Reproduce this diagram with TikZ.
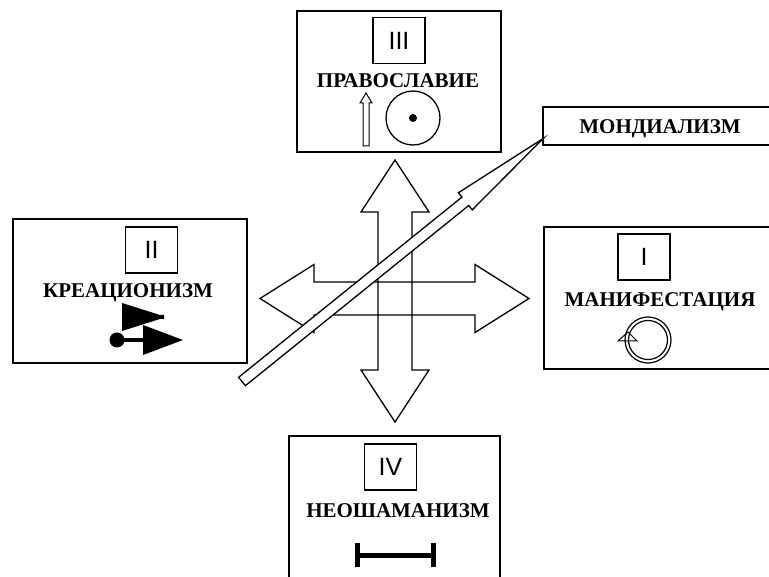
\documentclass[tikz,border=0pt]{standalone}
\usepackage{fontspec}
\setmainfont{Liberation Serif}
\newfontfamily\arialf{Liberation Sans}
\begin{document}
\begin{tikzpicture}[x=1pt,y=-1pt,
  bigbox/.style={draw, line width=1.6pt, inner sep=0pt},
  smallbox/.style={draw, line width=1.2pt, inner sep=0pt, minimum width=52pt, minimum height=46pt, font=\arialf\fontsize{25}{25}\selectfont},
  rlabel/.style={font=\bfseries\fontsize{21}{22}\selectfont, anchor=base, inner sep=0pt},
  outline/.style={draw, line width=1.3pt, line join=miter},
]
\useasboundingbox (0,0) rectangle (769,577);
\clip (0,0) rectangle (769,577);

% big boxes
\node[bigbox, minimum width=204pt, minimum height=141pt] (b3) at (399,81.5) {};
\node[bigbox, minimum width=234pt, minimum height=144pt] (b2) at (130,291) {};
\node[bigbox, minimum width=256pt, minimum height=142pt] (b1) at (672,298) {};
\node[bigbox, minimum width=257pt, minimum height=38pt] (bm) at (671.5,126) {};
\node[bigbox, minimum width=211pt, minimum height=184pt] (b4) at (394.5,528) {};

% small numeral boxes
\node[smallbox] (n3) at (399,40.5) {III};
\node[smallbox] (n2) at (151.5,250) {II};
\node[smallbox] (n1) at (644,257) {I};
\node[smallbox] (n4) at (390.5,467) {IV};

% labels
\node[rlabel] (t3) at (398,88) {ПРАВОСЛАВИЕ};
\node[rlabel] (t2) at (128,298) {КРЕАЦИОНИЗМ};
\node[rlabel] (t1) at (660,307) {МАНИФЕСТАЦИЯ};
\node[rlabel] (t4) at (398,517) {НЕОШАМАНИЗМ};
\node[rlabel] (tm) at (660,134) {МОНДИАЛИЗМ};

% central cross of double arrows
\draw[outline] (395,160) -- (429,212) -- (412,212) -- (412,370) -- (429,370) -- (395,422)
  -- (361,370) -- (378,370) -- (378,212) -- (361,212) -- cycle;
\draw[outline] (260,298.5) -- (314,264.5) -- (314,282) -- (475,282) -- (475,264.5) -- (529,298.5)
  -- (475,332.5) -- (475,315) -- (314,315) -- (314,332.5) -- cycle;

% diagonal arrow towards МОНДИАЛИЗМ
\begin{scope}[shift={(242,381.5)}, rotate=38.9]
  \draw[outline, fill=white] (0,-5.4) -- (287,-5.4) -- (287,-11) -- (387,0) -- (287,11)
    -- (287,5.4) -- (0,5.4) -- cycle;
\end{scope}

% symbols in box III
\draw[line width=1pt, fill=white] (363,146) -- (363,103) -- (360,103) -- (366,93) -- (372,103)
  -- (369,103) -- (369,146) -- cycle;
\draw[line width=1.3pt] (413,118) circle[radius=27pt];
\fill (413,118) circle[radius=4pt];

% symbols in box II
\fill (122,303) -- (160,315) -- (164,315) -- (164,319) -- (160,319) -- (122,331) -- cycle;
\fill (117,340) circle[radius=7.5pt];
\draw[line width=4pt] (117,340) -- (145,340);
\fill (143,325) -- (183,340) -- (143,355) -- cycle;

% symbols in box I
\draw[line width=1.2pt] (648,340) circle[radius=23pt];
\draw[line width=1.2pt] (648,340) circle[radius=19.5pt];
\draw[line width=1pt] (628,332) -- (637,341) -- (618,341) -- cycle;

% symbol in box IV
\draw[line width=5pt] (356,555) -- (434,555);
\draw[line width=5pt] (357,543) -- (357,567);
\draw[line width=5pt] (433,543) -- (433,567);
\end{tikzpicture}
\end{document}
